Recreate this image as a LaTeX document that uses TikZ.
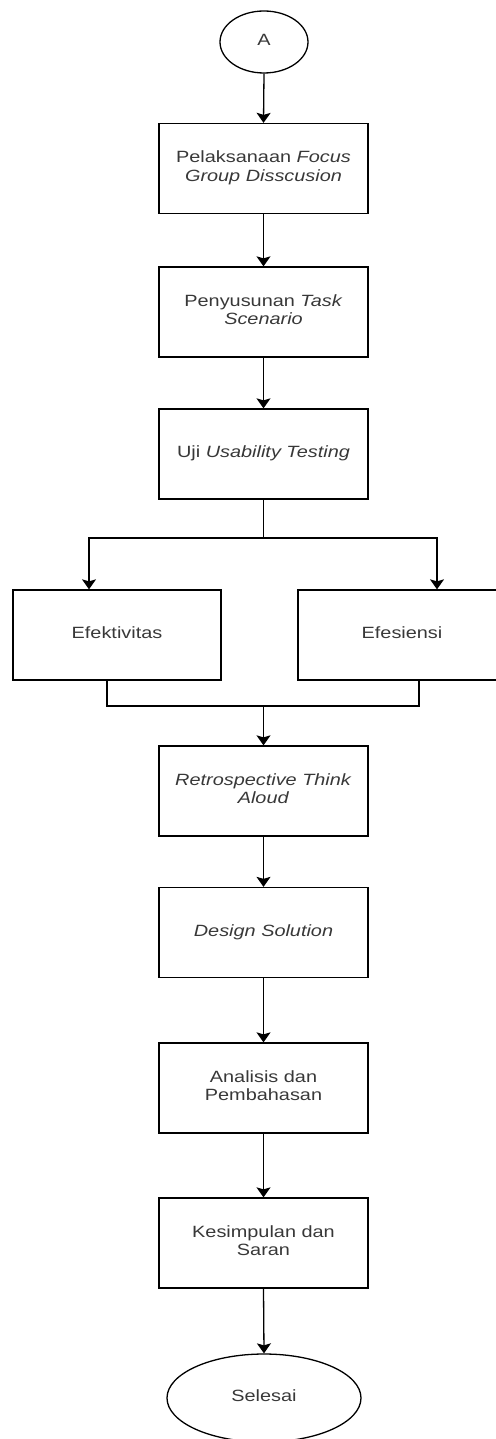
\documentclass[tikz,border=0pt]{standalone}
\usepackage{fontspec}
\usepackage{graphicx}
\setmainfont{Liberation Sans}
\usetikzlibrary{shapes.geometric,arrows.meta}

% Text is set slightly wide, as in the original flowchart
\newcommand{\wtext}[1]{\scalebox{1.22}[1]{\begin{tabular}{@{}c@{}}#1\end{tabular}}}

\tikzset{
  procbox/.style={draw=black, line width=1.3pt, rectangle, minimum width=209pt,
    minimum height=90pt, inner sep=0pt, text=black!78,
    font=\fontsize{16.3}{18.5}\selectfont},
  termnode/.style={draw=black, line width=1.3pt, ellipse, inner sep=0pt,
    text=black!78, font=\fontsize{16.3}{18.5}\selectfont},
  link/.style={draw=black, line width=1.3pt},
  arr/.style={link, -{Stealth[length=10pt,width=14pt,inset=2pt]}}
}

\begin{document}
\begin{tikzpicture}[x=1pt, y=-1pt]
  \useasboundingbox (0,0) rectangle (495,1439);

  % terminals
  \node[termnode, minimum width=88pt, minimum height=62pt] (start) at (264,42) {\wtext{A}};
  \node[termnode, minimum width=194pt, minimum height=88pt] (finish) at (264,1398) {\wtext{Selesai}};

  % main column of steps
  \node[procbox] (fgd)  at (263.5,168.5) {\wtext{Pelaksanaan \textit{Focus}\\\textit{Group Disscusion}}};
  \node[procbox] (task) at (263.5,312)   {\wtext{Penyusunan \textit{Task}\\\textit{Scenario}}};
  \node[procbox] (uji)  at (263.5,454)   {\wtext{Uji \textit{Usability Testing}}};

  % the two measured aspects
  \node[procbox, minimum width=208pt] (efek) at (117,635) {\wtext{Efektivitas}};
  \node[procbox, minimum width=208pt] (efis) at (402,635) {\wtext{Efesiensi}};

  \node[procbox] (rta)   at (263.5,791)   {\wtext{\textit{Retrospective Think}\\\textit{Aloud}}};
  \node[procbox] (dsol)  at (263.5,932.5) {\wtext{\textit{Design Solution}}};
  \node[procbox] (anal)  at (263.5,1088)  {\wtext{Analisis dan\\Pembahasan}};
  \node[procbox] (kesim) at (263.5,1243)  {\wtext{Kesimpulan dan\\Saran}};

  % branching and merging points
  \coordinate (split) at (263.5,538);
  \coordinate (merge) at (263.5,706);

  % connectors
  \draw[arr] (start.south) -- (fgd.north);
  \draw[arr] (fgd) -- (task);
  \draw[arr] (task) -- (uji);

  \draw[link] (uji.south) -- (split);
  \draw[arr] (split) -| ([xshift=-28pt]efek.north);
  \draw[arr] (split) -| ([xshift=35pt]efis.north);

  \draw[link] ([xshift=-10pt]efek.south) |- (merge);
  \draw[link] ([xshift=17pt]efis.south) |- (merge);
  \draw[arr] (merge) -- (rta.north);

  \draw[arr] (rta) -- (dsol);
  \draw[arr] (dsol) -- (anal);
  \draw[arr] (anal) -- (kesim);
  \draw[arr] (kesim.south) -- (finish.north);
\end{tikzpicture}
\end{document}
